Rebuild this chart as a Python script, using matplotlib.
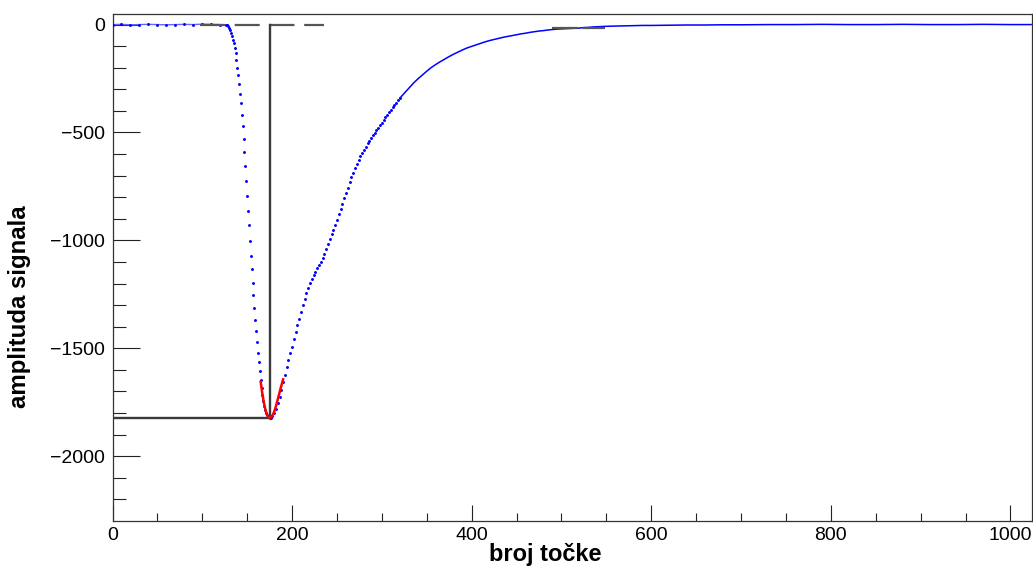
import matplotlib
matplotlib.use("Agg")
import matplotlib.pyplot as plt
from matplotlib.ticker import MultipleLocator, FuncFormatter

plt.rcParams['font.family'] = ['Liberation Sans', 'DejaVu Sans']

# ---- data ----
# baseline before the pulse (sample, amplitude)
base_pre_x = [0, 10, 20, 30, 40, 50, 60, 70, 80, 90, 100, 110, 120, 126]
base_pre_y = [0, 1, -1, 0, 1, 0, -1, 0, 1, 0, 2, 1, 0, -1]

# falling edge, one value per sample
fall_x = [127, 128, 129, 130, 131, 132, 133, 134, 135, 136, 137, 138, 139, 140,
          141, 142, 143, 144, 145, 146, 147, 148, 149, 150, 151, 152, 153, 154,
          155, 156, 157, 158, 159, 160, 161, 162, 163, 164, 165, 166, 167, 168,
          169, 170, 171, 172, 173, 174, 175, 176]
fall_y = [-1, -3, -8, -16, -27, -40, -55, -70, -87, -109, -134, -165, -199, -233,
          -274, -321, -363, -418, -472, -530, -592, -657, -724, -793, -863, -931,
          -1001, -1071, -1132, -1196, -1253, -1313, -1369, -1422, -1473, -1521,
          -1564, -1607, -1648, -1685, -1716, -1744, -1767, -1786, -1800, -1810,
          -1816, -1819, -1821, -1821]

# rising edge, every second sample
rise_x = [178, 180, 182, 184, 186, 188, 190, 192, 194, 196, 198, 200, 202, 204,
          206, 208, 210, 212, 214, 216, 218, 220, 222, 224, 226, 228, 230, 232,
          234, 236, 238, 240, 242, 244, 246, 248, 250, 252, 254, 256, 258, 260,
          262, 264, 266, 268, 270, 272, 274, 276, 278, 280, 282, 284, 286, 288,
          290, 292, 294, 296, 298, 300, 302, 304, 306, 308, 310, 312, 314, 316,
          318, 320]
rise_y = [-1815, -1800, -1780, -1754, -1726, -1694, -1658, -1622, -1588, -1555,
          -1524, -1492, -1459, -1426, -1394, -1362, -1330, -1299, -1271, -1244,
          -1220, -1198, -1178, -1160, -1145, -1130, -1115, -1099, -1082, -1062,
          -1040, -1017, -994, -972, -950, -928, -905, -880, -855, -830, -805,
          -780, -755, -731, -708, -686, -665, -645, -627, -610, -594, -579, -565,
          -551, -538, -526, -514, -502, -490, -478, -466, -454, -442, -430, -418,
          -406, -395, -384, -373, -362, -351, -341]

# slow tail back to the baseline
tail_x = [320, 325, 330, 335, 340, 345, 350, 355, 360, 365, 370, 375, 380, 385,
          390, 395, 400, 405, 410, 415, 420, 425, 430, 435, 440, 445, 450, 455,
          460, 465, 470, 475, 480, 485, 490, 495, 500, 505, 510, 515, 520, 525,
          530, 535, 540, 545, 550, 560, 570, 580, 590, 600, 620, 640, 660, 680,
          700, 730, 760, 790, 820, 850, 880, 910, 940, 970, 1000, 1023]
tail_y = [-341, -318, -295, -272, -252, -234, -216, -199, -185, -172, -160, -148,
          -137, -127, -117, -108, -101, -94, -87, -80, -74, -69, -64, -59, -55,
          -51, -47, -43, -40, -36, -33, -30, -28, -25, -23, -21, -20, -19, -18,
          -17, -16, -14, -13, -11, -10, -9, -8, -7, -6, -5, -4, -4, -3, -2, -2,
          -1, -1, 0, 0, 1, 0, 0, 1, 0, 0, 1, 0, 0]

# fitted curve around the minimum (red)
fit_x = [165, 166, 167, 168, 169, 170, 171, 172, 173, 174, 175, 176, 177, 178,
         179, 180, 181, 182, 183, 184, 185, 186, 187, 188, 189, 190]
fit_y = [-1655, -1685, -1713, -1738, -1760, -1779, -1794, -1806, -1814, -1819,
         -1821, -1821, -1818, -1812, -1804, -1794, -1782, -1768, -1753, -1737,
         -1721, -1705, -1689, -1674, -1659, -1644]

peak_x = 175.8
peak_y = -1821
baseline_seg_x = [98, 236]
baseline_seg_y = 0
level_seg_x = [490, 548]
level_seg_y = -18

xlim = (0, 1024)
ylim = (-2298, 49)

# ---- figure ----
W, H = 1033, 566
fig = plt.figure(figsize=(W / 100, H / 100), dpi=100)
ax = fig.add_axes([112.5 / W, 1 - 520.5 / H, (1032 - 112.5) / W, (520.5 - 14) / H])

ax.plot(base_pre_x, base_pre_y, color=(0.4, 0.4, 1.0), lw=1.0, zorder=2)
ax.plot(base_pre_x, base_pre_y, ls='none', marker='.', ms=2.2, color='blue', zorder=3)
ax.plot(fall_x, fall_y, ls='none', marker='.', ms=2.2, color='blue', zorder=3)
ax.plot(rise_x, rise_y, ls='none', marker='.', ms=2.2, color='blue', zorder=3)
ax.plot(tail_x, tail_y, color='blue', lw=1.1, zorder=3)

# dashed reference levels
lw_d = 1.6
ax.plot(baseline_seg_x, [baseline_seg_y] * 2, color='#555555', lw=lw_d,
        dashes=(18 / lw_d, 7 / lw_d), zorder=4)
ax.plot(level_seg_x, [level_seg_y] * 2, color='#555555', lw=lw_d,
        dashes=(18 / lw_d, 4 / lw_d), zorder=4)

# minimum markers
ax.plot([xlim[0], peak_x], [peak_y, peak_y], color='#3a3a3a', lw=1.7, zorder=4)
ax.plot([peak_x, peak_x], [peak_y, baseline_seg_y], color='#3a3a3a', lw=1.7, zorder=4)

ax.plot(fit_x, fit_y, color='red', lw=1.8, zorder=5)

ax.set_xlim(*xlim)
ax.set_ylim(*ylim)

ax.xaxis.set_major_locator(MultipleLocator(200))
ax.xaxis.set_minor_locator(MultipleLocator(50))
ax.yaxis.set_major_locator(MultipleLocator(500))
ax.yaxis.set_minor_locator(MultipleLocator(100))

ax.tick_params(axis='both', which='both', direction='in', colors='#222222',
               labelcolor='black', labelsize=14, width=0.8,
               top=False, right=False)
ax.tick_params(axis='y', which='major', length=19.5, pad=5.5)
ax.tick_params(axis='y', which='minor', length=9.5)
ax.tick_params(axis='x', which='major', length=11.5, pad=5)
ax.tick_params(axis='x', which='minor', length=6)

for s in ax.spines.values():
    s.set_color('#333333')
    s.set_linewidth(0.9)

ax.xaxis.set_major_formatter(FuncFormatter(lambda v, p: f"{int(v)}"))
ax.yaxis.set_major_formatter(FuncFormatter(
    lambda v, p: ("\u2212" + str(int(-v))) if v < 0 else str(int(v))))

fig.text(545 / W, 1 - 555 / H, "broj točke", ha='center', va='center',
         fontsize=17, fontweight='bold')
fig.text(20 / W, 1 - 307 / H, "amplituda signala", ha='center', va='center',
         rotation=90, fontsize=17.3, fontweight='bold')

fig.savefig("out.png", dpi=100)
